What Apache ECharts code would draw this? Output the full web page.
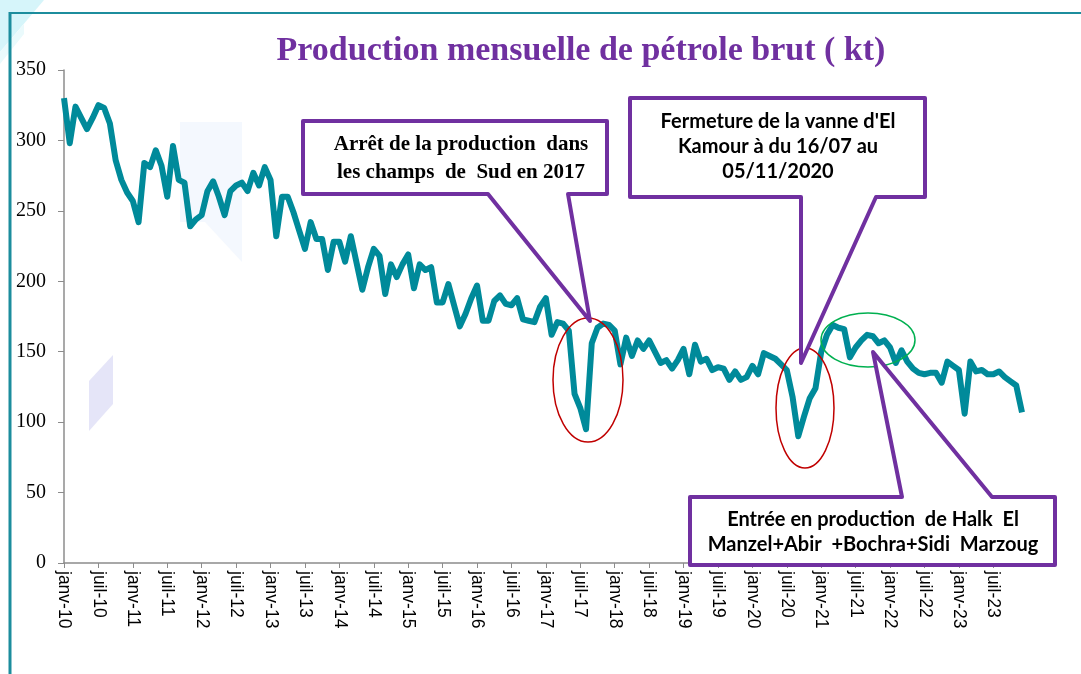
<!DOCTYPE html>
<html><head><meta charset="utf-8">
<script src="https://cdn.jsdelivr.net/npm/echarts@6/dist/echarts.min.js"></script>
<style>html,body{margin:0;padding:0;background:#fff}#c{width:1081px;height:674px}</style>
</head><body><div id="c"></div>
<script>
// ---- data ----
const monthNames = ['janv','févr','mars','avr','mai','juin','juil','août','sept','oct','nov','déc'];
const years = [2010,2011,2012,2013,2014,2015,2016,2017,2018,2019,2020,2021,2022,2023];
const production = [
  330,298,324,316,308,316,325,323,312,286,272,263,   // 2010
  257,242,284,281,293,282,260,296,272,270,239,244,   // 2011
  247,264,271,260,247,264,268,270,264,277,268,281,   // 2012
  272,232,260,260,249,236,223,242,230,230,208,228,   // 2013
  228,214,232,213,194,210,223,218,191,212,203,212,   // 2014
  219,195,212,208,210,185,185,198,183,168,177,188,   // 2015
  197,172,172,186,190,184,183,188,173,172,171,182,   // 2016
  188,162,171,170,165,120,110,95,156,167,170,169,    // 2017
  165,141,160,147,158,152,158,150,142,144,138,144,   // 2018
  152,134,155,143,145,137,139,138,130,136,130,132,   // 2019
  140,134,149,147,145,141,137,118,90,104,117,124,    // 2020
  150,162,169,167,166,146,153,158,162,161,156,158,   // 2021
  153,142,151,143,138,135,134,135,135,128,143,140,   // 2022
  137,106,143,136,137,134,134,136,132,129,126,107    // 2023
];
const yMin = 0, yMax = 350, yStep = 50;
const titleText = 'Production mensuelle de pétrole brut ( kt)';
const note1 = 'Arrêt de la production  dans\nles champs  de  Sud en 2017';
const note2 = "Fermeture de la vanne d'El\nKamour à du 16/07 au\n05/11/2020";
const note3 = 'Entrée en production  de Halk  El\nManzel+Abir  +Bochra+Sidi  Marzoug';

const categories = [];
years.forEach(y => monthNames.forEach(m => categories.push(m + '-' + String(y).slice(2))));

const purple = '#7030A0';
const chart = echarts.init(document.getElementById('c'), null, {renderer: 'canvas'});
chart.setOption({
  animation: false,
  backgroundColor: '#ffffff',
  grid: {left: 64, top: 70, right: 59, bottom: 111, containLabel: false},
  xAxis: {
    type: 'category', data: categories, boundaryGap: false,
    axisLine: {lineStyle: {color: '#8c8c8c', width: 1.5}},
    axisTick: {interval: 5, length: 5, lineStyle: {color: '#8c8c8c'}},
    axisLabel: {interval: 5, rotate: -90, margin: 8, color: '#000',
      fontFamily: '"Liberation Sans", Arial, sans-serif', fontSize: 17.5},
    splitLine: {show: false}
  },
  yAxis: {
    type: 'value', min: yMin, max: yMax, interval: yStep,
    axisLine: {show: true, lineStyle: {color: '#8c8c8c', width: 1.5}},
    axisTick: {show: true, length: 6, lineStyle: {color: '#8c8c8c'}},
    axisLabel: {margin: 18, color: '#000', fontFamily: '"Liberation Serif", serif', fontSize: 20},
    splitLine: {show: false}
  },
  series: [{
    type: 'line', data: production, symbol: 'none', smooth: false,
    lineStyle: {color: '#008A9A', width: 6, join: 'round'}, z: 5
  }],
  graphic: [
    // slide decorations
    {type: 'polygon', shape: {points: [[0,0],[44,0],[0,52]]}, style: {fill: '#D6F5FA'}, z: 0},
    {type: 'polygon', shape: {points: [[0,52],[0,64],[24,34],[24,24]]}, style: {fill: '#EAFAFC'}, z: 0},
    {type: 'line', shape: {x1: 10, y1: 13, x2: 1081, y2: 13}, style: {stroke: '#1C8D9D', lineWidth: 2}, z: 1},
    {type: 'line', shape: {x1: 10, y1: 12, x2: 10, y2: 674}, style: {stroke: '#1C8D9D', lineWidth: 3}, z: 1},
    {type: 'polygon', shape: {points: [[89,381],[113,355],[113,404],[89,431]]}, style: {fill: '#E5E5F8'}, z: 0},
    {type: 'polygon', shape: {points: [[180,122],[242,122],[242,262],[205,222],[180,222]]}, style: {fill: '#F4F8FE'}, z: 0},
    // title
    {type: 'text', x: 581, y: 51, z: 20,
      style: {text: titleText, font: 'bold 34px "Liberation Serif", serif', fill: purple, align: 'center', verticalAlign: 'middle'}},
    // ellipses
    {type: 'ellipse', shape: {cx: 588, cy: 380, rx: 35, ry: 62}, style: {fill: 'none', stroke: '#C00000', lineWidth: 1.5}, z: 20},
    {type: 'ellipse', shape: {cx: 805, cy: 408, rx: 29, ry: 60}, style: {fill: 'none', stroke: '#C00000', lineWidth: 1.5}, z: 20},
    {type: 'ellipse', shape: {cx: 868, cy: 340, rx: 47, ry: 27}, style: {fill: 'none', stroke: '#00B050', lineWidth: 1.5}, z: 20},
    // callout 1
    {type: 'polygon', z: 30,
      shape: {points: [[303,121],[607,121],[607,194],[568,194],[590,321],[488,194],[303,194]]},
      style: {fill: '#fff', stroke: purple, lineWidth: 4, lineJoin: 'round'}},
    {type: 'text', x: 461, y: 159, z: 31,
      style: {text: note1, font: 'bold 21px "Liberation Serif", serif', fill: '#000', align: 'center', verticalAlign: 'middle', lineHeight: 28}},
    // callout 2
    {type: 'polygon', z: 30,
      shape: {points: [[630,98],[925,98],[925,197],[876,197],[801,363],[801,197],[630,197]]},
      style: {fill: '#fff', stroke: purple, lineWidth: 4, lineJoin: 'round'}},
    {type: 'text', x: 778, y: 147, z: 31,
      style: {text: note2, font: 'bold 20px Lato, sans-serif', fill: '#000', align: 'center', verticalAlign: 'middle', lineHeight: 25}},
    // callout 3
    {type: 'polygon', z: 30,
      shape: {points: [[690,497],[902,497],[873,352],[992,497],[1055,497],[1055,565],[690,565]]},
      style: {fill: '#fff', stroke: purple, lineWidth: 4, lineJoin: 'round'}},
    {type: 'text', x: 873, y: 532, z: 31,
      style: {text: note3, font: 'bold 20px Lato, sans-serif', fill: '#000', align: 'center', verticalAlign: 'middle', lineHeight: 25}}
  ]
});
</script>
</body></html>
